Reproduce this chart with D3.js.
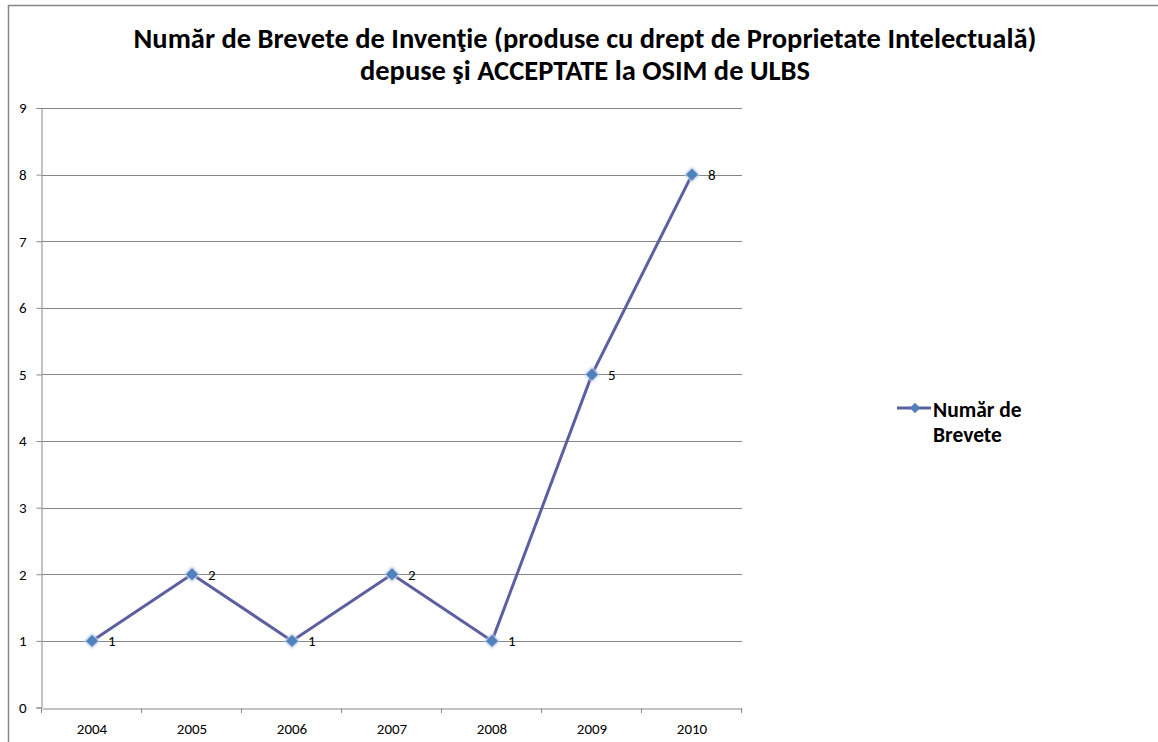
<!DOCTYPE html>
<html><head><meta charset="utf-8">
<script src="https://cdn.jsdelivr.net/npm/d3@7"></script>
<style>body{margin:0;background:#fff}svg{display:block}</style>
</head><body>
<script>
const categories = ["2004","2005","2006","2007","2008","2009","2010"];
const values = [1,2,1,2,1,5,8];
const yTicks = [0,1,2,3,4,5,6,7,8,9];
const seriesName = ["Număr de","Brevete"];
const titleLines = ["Număr de Brevete de Invenţie (produse cu drept de Proprietate Intelectuală)","depuse şi ACCEPTATE la OSIM de ULBS"];

const W=1158,H=742;
const svg=d3.select("body").append("svg").attr("width",W).attr("height",H);
const font="Carlito, Lato, 'Liberation Sans', sans-serif";
svg.append("rect").attr("x",8.5).attr("y",5.5).attr("width",W).attr("height",H).attr("fill","#fff").attr("stroke","#878787").attr("stroke-width",1.5);

const x=d3.scaleBand().domain(categories).range([42,742]);
const y=d3.scaleLinear().domain([0,9]).range([707.5,108]);

const g=svg.append("g");
g.selectAll(".grid").data(yTicks.filter(d=>d>0)).join("line")
 .attr("x1",42).attr("x2",742).attr("y1",d=>Math.round(y(d))+0.5).attr("y2",d=>Math.round(y(d))+0.5)
 .attr("stroke","#868686").attr("stroke-width",1);

const ya=svg.append("g").attr("transform","translate(41.5,0)")
 .call(d3.axisLeft(y).tickValues(yTicks).tickSize(5).tickPadding(10).tickFormat(d3.format("d")));
const xa=svg.append("g").attr("transform",`translate(0,${Math.round(y(0))+0.5})`)
 .call(d3.axisBottom(x).tickSize(0).tickPadding(15));
svg.append("g").selectAll("line").data(d3.range(categories.length+1)).join("line")
 .attr("x1",i=>41.5+i*x.step()).attr("x2",i=>41.5+i*x.step())
 .attr("y1",Math.round(y(0))+0.5).attr("y2",Math.round(y(0))+5)
 .attr("stroke","#868686");
[ya,xa].forEach(a=>{a.select(".domain").attr("stroke","#868686");a.selectAll(".tick line").attr("stroke","#868686");
 a.selectAll("text").attr("font-family",font).attr("font-size",15).attr("fill","#000");});

const cx=d=>x(d)+x.bandwidth()/2;
const line=d3.line().x((d,i)=>cx(categories[i])).y(d=>y(d));
svg.append("path").datum(values).attr("d",line).attr("fill","none").attr("stroke","#5e5fa0").attr("stroke-width",3);

const defs=svg.append("defs");
const f=defs.append("filter").attr("id","glow").attr("x","-50%").attr("y","-50%").attr("width","200%").attr("height","200%");
f.append("feGaussianBlur").attr("stdDeviation",1.3);
const mk=svg.append("g").selectAll("g").data(values).join("g")
 .attr("transform",(d,i)=>`translate(${cx(categories[i])},${y(d)})`);
mk.append("path").attr("d",d3.symbol().type(d3.symbolDiamond2).size(150)).attr("fill","#b9c9e6").attr("filter","url(#glow)");
mk.append("path").attr("d",d3.symbol().type(d3.symbolDiamond2).size(90)).attr("fill","#4f81bd");

svg.append("g").selectAll("text").data(values).join("text")
 .attr("x",(d,i)=>cx(categories[i])+16).attr("y",d=>y(d)+5.5)
 .attr("font-family",font).attr("font-size",15).text(d=>d);

const t=svg.append("text").attr("text-anchor","middle").attr("font-family",font).attr("font-weight","bold").attr("font-size",28.5);
titleLines.forEach((s,i)=>t.append("tspan").attr("x",585).attr("y",48+i*32).text(s));

const lg=svg.append("g").attr("transform","translate(897,408)");
lg.append("line").attr("x1",0).attr("x2",34).attr("stroke","#5e5fa0").attr("stroke-width",3);
lg.append("path").attr("transform","translate(18,0)").attr("d",d3.symbol().type(d3.symbolDiamond2).size(70)).attr("fill","#4f81bd");
const lt=lg.append("text").attr("font-family",font).attr("font-weight","bold").attr("font-size",21.5);
seriesName.forEach((s,i)=>lt.append("tspan").attr("x",36).attr("y",9+i*25).text(s));
</script>
</body></html>
